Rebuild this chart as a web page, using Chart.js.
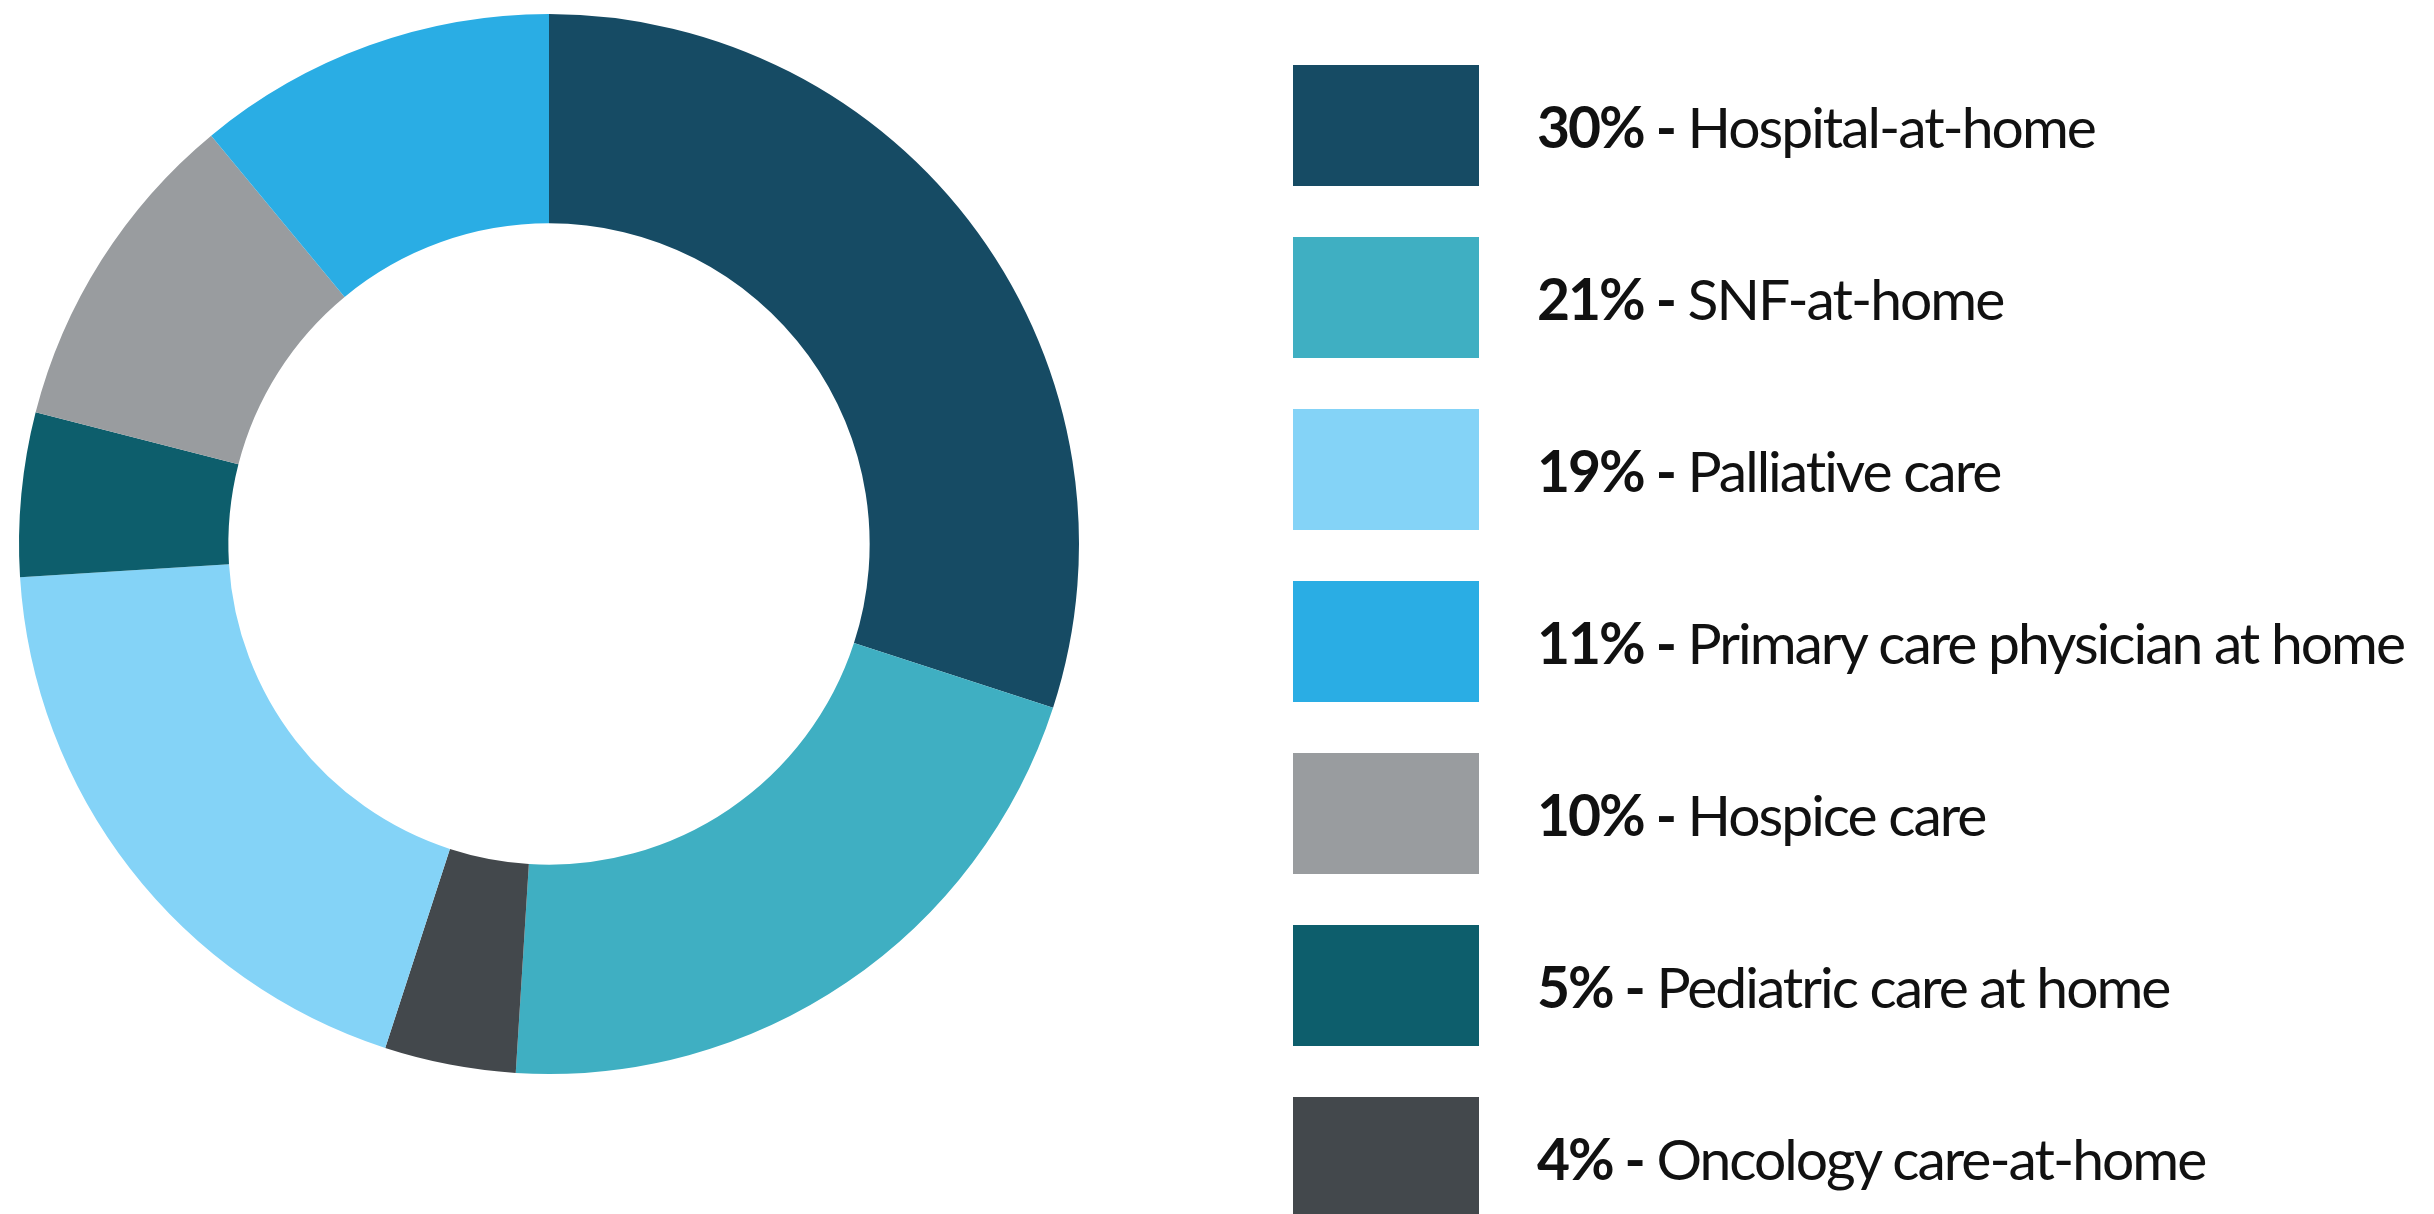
<!DOCTYPE html>
<html>
<head>
<meta charset="utf-8">
<script src="https://cdn.jsdelivr.net/npm/chart.js@4.4.1/dist/chart.umd.min.js"></script>
<style>
  html, body { margin: 0; padding: 0; background: #ffffff; }
  body { width: 2434px; height: 1214px; position: relative; overflow: hidden; font-family: 'Lato', 'Open Sans', sans-serif; }
  #chartBox { position: absolute; left: 0; top: 0; width: 1098px; height: 1088px; }
  #legend { position: absolute; left: 1293px; top: 65px; }
  .row { display: flex; align-items: center; height: 121px; margin-bottom: 51px; }
  .swatch { width: 186px; height: 121px; flex: none; }
  .label { margin-left: 58px; font-size: 57px; color: #111111; letter-spacing: -2px; white-space: nowrap; }
  .label b { font-weight: 700; }
</style>
</head>
<body>
<div id="chartBox"><canvas id="donut"></canvas></div>
<div id="legend"></div>
<script>
// slices in clockwise order from 12 o'clock
const labels = [
  'Hospital-at-home',
  'SNF-at-home',
  'Oncology care-at-home',
  'Palliative care',
  'Pediatric care at home',
  'Hospice care',
  'Primary care physician at home'
];
const shares = [30, 21, 4, 19, 5, 10, 11];
const sliceColors = ['#164b64', '#3fafc2', '#43484c', '#84d3f7', '#0d5e6c', '#999c9f', '#2aade4'];

new Chart(document.getElementById('donut'), {
  type: 'doughnut',
  data: {
    labels,
    datasets: [{
      data: shares,
      backgroundColor: sliceColors,
      borderWidth: 0
    }]
  },
  options: {
    responsive: true,
    maintainAspectRatio: false,
    animation: false,
    cutout: '60.5%',
    layout: { padding: 14 },
    plugins: {
      legend: { display: false },
      tooltip: { enabled: false }
    }
  }
});

// legend on the right, biggest share first
const legendEl = document.getElementById('legend');
const order = shares.map((v, i) => i).sort((a, b) => shares[b] - shares[a]);
order.forEach(i => {
  const row = document.createElement('div');
  row.className = 'row';
  const sw = document.createElement('div');
  sw.className = 'swatch';
  sw.style.background = sliceColors[i];
  const txt = document.createElement('div');
  txt.className = 'label';
  const b = document.createElement('b');
  b.textContent = shares[i] + '% -';
  txt.appendChild(b);
  txt.appendChild(document.createTextNode(' ' + labels[i]));
  row.appendChild(sw);
  row.appendChild(txt);
  legendEl.appendChild(row);
});
</script>
</body>
</html>
